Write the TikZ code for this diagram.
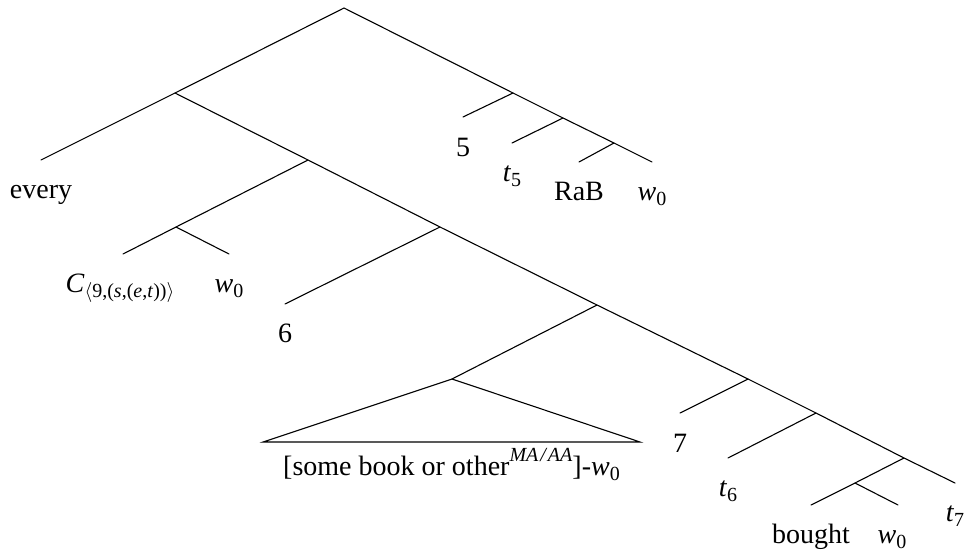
\documentclass[tikz,border=0pt]{standalone}
\usepackage{fontspec}
\setmainfont{Liberation Serif}
\usetikzlibrary{calc}
\newcommand{\smallidx}[1]{{\fontsize{10}{10}\selectfont#1}}
\newcommand{\vsub}[2]{\textit{#1}\raisebox{-0.18em}{\smallidx{#2}}}
\newcommand{\vsup}[1]{\raisebox{0.48em}{\smallidx{#1}}}

\begin{document}
\begin{tikzpicture}[x=0.5pt, y=-0.5pt, line cap=round, line width=0.55pt,
  lbl/.style={anchor=base, inner sep=0pt, font=\fontsize{14}{16}\selectfont}]
\useasboundingbox (0,0) rectangle (964,552);
\def\lg{38}
% branching points
\coordinate (top) at (344,8);
\coordinate (qp) at (175,93);
\coordinate (lam) at (513,93);
\coordinate (lamb) at (563,118);
\coordinate (vp) at (614,143);
\coordinate (np) at (308,160);
\coordinate (det) at (176,227);
\coordinate (six) at (440,227);
\coordinate (sixb) at (597,305);
\coordinate (apex) at (452,379);
\coordinate (sev) at (748,379);
\coordinate (sevb) at (816,413);
\coordinate (vpb) at (904,458);
\coordinate (vb) at (855,483);
% leaf ends
\coordinate (every) at (41,160);
\coordinate (five) at (463,117);
\coordinate (tfive) at (512,143);
\coordinate (rab) at (579,162);
\coordinate (wa) at (652,162);
\coordinate (cc) at (123,254);
\coordinate (wb) at (229,254);
\coordinate (six0) at (285,304);
\coordinate (sev0) at (680,413);
\coordinate (tsix) at (728,458);
\coordinate (tsev) at (955,483);
\coordinate (bought) at (811,505);
\coordinate (wc) at (898,505);
\coordinate (bl) at (263,442);
\coordinate (br) at (640,442);
% branches
\draw (top) -- (qp) -- (every);
\draw (top) -- (lam) -- (lamb) -- (vp) -- (wa);
\draw (lam) -- (five);
\draw (lamb) -- (tfive);
\draw (vp) -- (rab);
\draw (qp) -- (np) -- (six) -- (sixb) -- (sev) -- (sevb) -- (vpb) -- (tsev);
\draw (np) -- (det) -- (cc);
\draw (det) -- (wb);
\draw (six) -- (six0);
\draw (sixb) -- (apex);
\draw (apex) -- (bl) -- (br) -- cycle;
\draw (sev) -- (sev0);
\draw (sevb) -- (tsix);
\draw (vpb) -- (vb) -- (bought);
\draw (vb) -- (wc);
% labels
\node[lbl] (l-every) at ($(every)+(0,\lg)$) {every};
\node[lbl] (l-five) at ($(five)+(0,\lg+1)$) {5};
\node[lbl] (l-tfive) at ($(tfive)+(0,\lg)$) {\vsub{t}{5}};
\node[lbl] (l-rab) at ($(rab)+(0,\lg)$) {RaB};
\node[lbl] (l-wa) at ($(wa)+(0,\lg)$) {\vsub{w}{0}};
\node[lbl] (l-cc) at ($(cc)+(-3,\lg)$) {\vsub{C}{$\langle$9,(\textit{s},(\textit{e},\textit{t}))$\rangle$}};
\node[lbl] (l-wb) at ($(wb)+(0,\lg)$) {\vsub{w}{0}};
\node[lbl] (l-six) at ($(six0)+(0,\lg)$) {6};
\node[lbl] (l-sev) at ($(sev0)+(0,\lg+1)$) {7};
\node[lbl] (l-tsix) at ($(tsix)+(0,\lg)$) {\vsub{t}{6}};
\node[lbl] (l-tsev) at ($(tsev)+(0,\lg)$) {\vsub{t}{7}};
\node[lbl] (l-bought) at ($(bought)+(0,\lg)$) {bought};
\node[lbl] (l-wc) at ($(wc)+(-6,\lg)$) {\vsub{w}{0}};
\node[lbl] (l-dp) at ($(bl)!0.5!(br)+(0,33)$) {[some book or other\vsup{\textit{MA\kern1pt/\kern1pt AA}}]-\vsub{w}{0}};
\end{tikzpicture}
\end{document}
